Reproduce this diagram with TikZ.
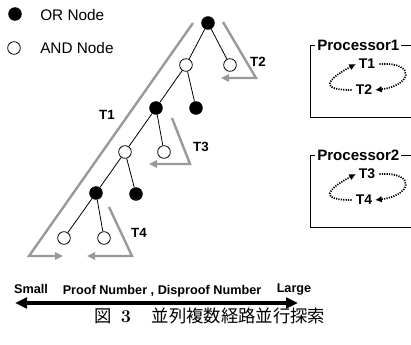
\documentclass[tikz,border=0pt]{standalone}
\usepackage{fontspec}
\setmainfont{Liberation Sans}
\newfontfamily\cjkfont{Noto Sans CJK JP}
\usetikzlibrary{arrows.meta}
\begin{document}
\begin{tikzpicture}[x=0.75pt,y=-0.75pt,
  ornode/.style={circle,draw=black,fill=black,line width=0.6pt,minimum size=9.5pt,inner sep=0pt},
  andnode/.style={circle,draw=black,fill=white,line width=0.6pt,minimum size=9.5pt,inner sep=0pt},
  edge/.style={line width=0.6pt},
  trav/.style={draw=black!40,line width=1.8pt,-{Triangle[length=6pt,width=5.5pt]}},
  tlabel/.style={font=\fontsize{10}{12}\selectfont\bfseries,inner sep=0pt},
  plabel/.style={font=\fontsize{10.5}{12}\selectfont\bfseries,inner sep=0pt},
  legtext/.style={font=\fontsize{11.5}{13}\selectfont,anchor=west,inner sep=0pt},
  ptitle/.style={font=\fontsize{11.3}{13}\selectfont\bfseries,anchor=west,fill=white,inner sep=1.5pt},
  pbox/.style={line width=0.6pt},
  loop/.style={line width=1.3pt,dash pattern=on 0.9pt off 0.9pt,-{Latex[length=5pt,width=5pt]}},
  axislbl/.style={font=\fontsize{9.5}{11}\selectfont\bfseries,inner sep=0pt},
  bigarrow/.style={line width=2.3pt,{Triangle[length=9pt,width=8pt]}-{Triangle[length=9pt,width=8pt]}}
]
\useasboundingbox (0,0) rectangle (411,345);

% legend
\node[ornode] (legor) at (15,14) {};
\node[legtext] (legortxt) at (40,15) {OR Node};
\node[andnode] (legand) at (14,48) {};
\node[legtext] (legandtxt) at (40,48) {AND Node};

% tree
\node[ornode] (r) at (208,23) {};
\node[andnode] (a1) at (186,65) {};
\node[andnode] (a2) at (230,65) {};
\node[ornode] (b1) at (156,108) {};
\node[ornode] (b2) at (196,108) {};
\node[andnode] (c1) at (125,152) {};
\node[andnode] (c2) at (164,152) {};
\node[ornode] (d1) at (96,193) {};
\node[ornode] (d2) at (136,194) {};
\node[andnode] (e1) at (64,238) {};
\node[andnode] (e2) at (104,238) {};
\draw[edge] (r) -- (a1);
\draw[edge] (r) -- (a2);
\draw[edge] (a1) -- (b1);
\draw[edge] (a1) -- (b2);
\draw[edge] (b1) -- (c1);
\draw[edge] (b1) -- (c2);
\draw[edge] (c1) -- (d1);
\draw[edge] (c1) -- (d2);
\draw[edge] (d1) -- (e1);
\draw[edge] (d1) -- (e2);

% traversal paths
\coordinate (t1s) at (193,23);
\coordinate (t1c) at (29,256);
\coordinate (t1e) at (63,256);
\coordinate (t2s) at (223,22);
\coordinate (t2c) at (256,78);
\coordinate (t2e) at (221,78);
\coordinate (t3s) at (172,118);
\coordinate (t3c) at (190,164);
\coordinate (t3e) at (149,164);
\coordinate (t4s) at (109,207);
\coordinate (t4c) at (132,256);
\coordinate (t4e) at (87,256);
\draw[trav] (t1s) -- (t1c) -- (t1e);
\draw[trav] (t2s) -- (t2c) -- (t2e);
\draw[trav] (t3s) -- (t3c) -- (t3e);
\draw[trav] (t4s) -- (t4c) -- (t4e);
\node[tlabel] (lt1) at (107,115) {T1};
\node[tlabel] (lt2) at (258,62) {T2};
\node[tlabel] (lt3) at (201,147) {T3};
\node[tlabel] (lt4) at (139,233) {T4};

% processor 1
\draw[pbox] (411,45) -- (310,45) -- (310,117) -- (411,117);
\node[ptitle] (p1) at (315,45) {Processor1};
\node[plabel] (p1a) at (367,64) {T1};
\node[plabel] (p1b) at (364,90) {T2};
\draw[loop] ([xshift=-3pt]p1b.west) .. controls +(-32,0) and +(-30,16) .. ([xshift=-2pt]p1a.west);
\draw[loop] ([xshift=3pt]p1a.east) .. controls +(38,-2) and +(36,-4) .. ([xshift=2pt]p1b.east);

% processor 2
\draw[pbox] (411,155) -- (310,155) -- (310,227) -- (411,227);
\node[ptitle] (p2) at (315,155) {Processor2};
\node[plabel] (p2a) at (367,174) {T3};
\node[plabel] (p2b) at (364,200) {T4};
\draw[loop] ([xshift=-3pt]p2b.west) .. controls +(-32,0) and +(-30,16) .. ([xshift=-2pt]p2a.west);
\draw[loop] ([xshift=3pt]p2a.east) .. controls +(38,-2) and +(36,-4) .. ([xshift=2pt]p2b.east);

% axis
\coordinate (axl) at (15,303);
\coordinate (axr) at (298,303);
\draw[bigarrow] (axl) -- (axr);
\node[axislbl] (small) at (31,289) {Small};
\node[axislbl] (pn) at (162,291) {Proof Number , Disproof Number};
\node[axislbl] (large) at (294,289) {Large};

% caption
\node[font=\fontsize{13}{15}\selectfont,inner sep=0pt] (cap) at (210,316)
  {\cjkfont 図\hspace{0.5em}{\fontspec{Latin Modern Roman}\bfseries\fontsize{13.5}{15}\selectfont 3}\hspace{1.2em}並列複数経路並行探索};
\end{tikzpicture}
\end{document}
